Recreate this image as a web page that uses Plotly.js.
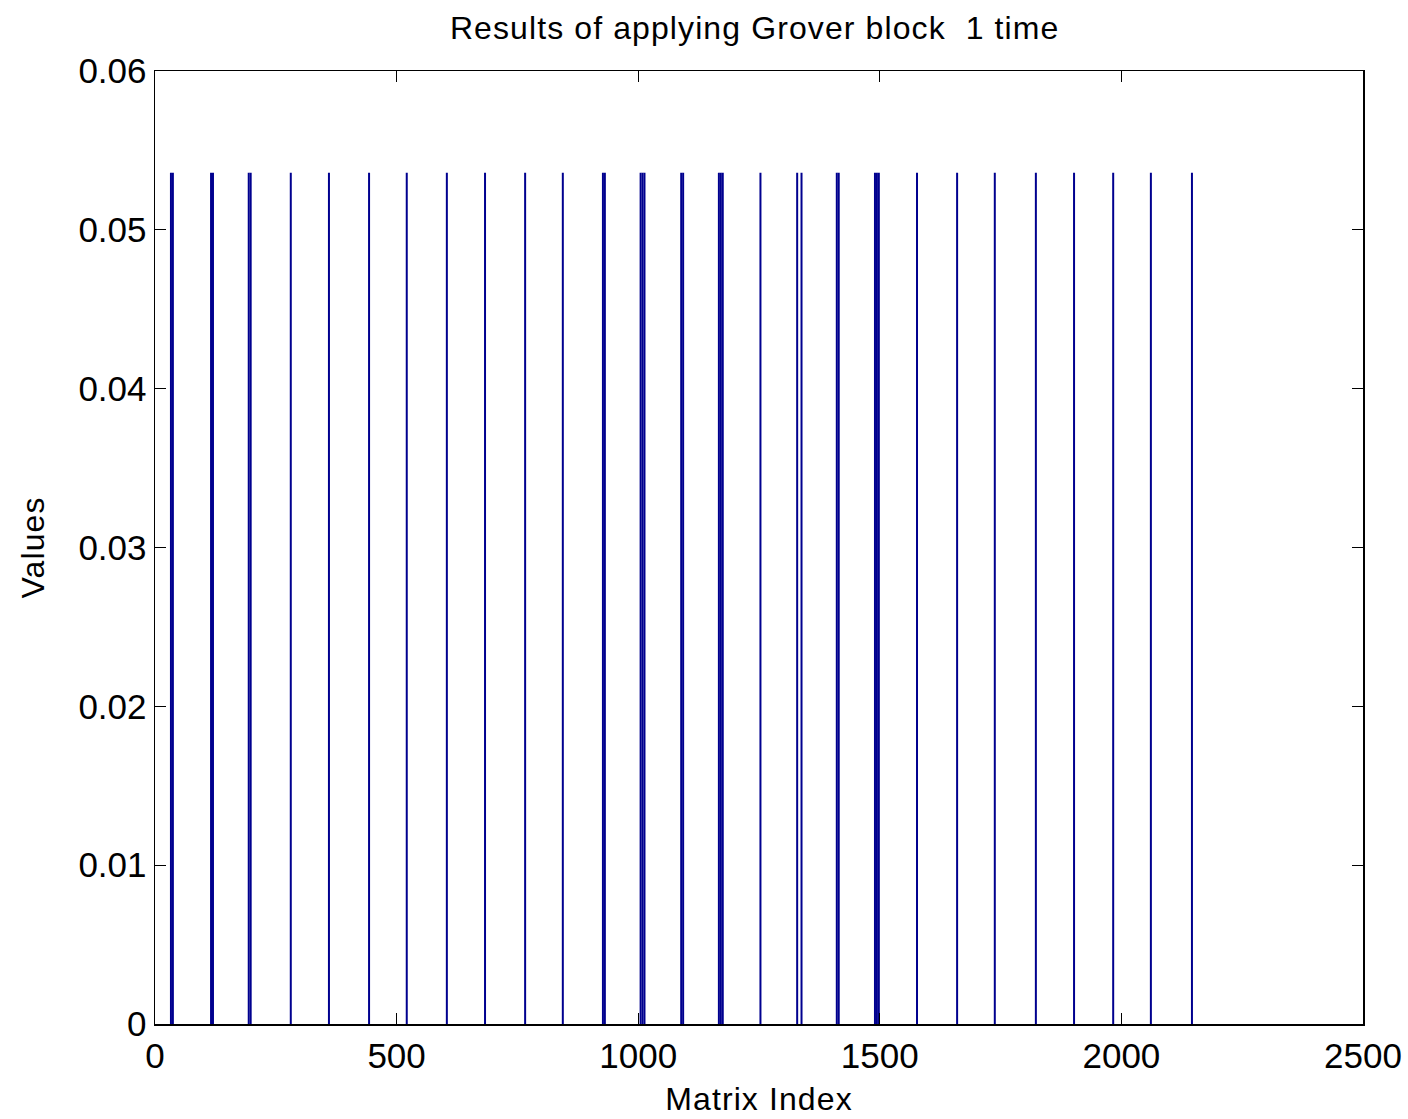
<!DOCTYPE html>
<html>
<head>
<meta charset="utf-8">
<script src="https://cdn.plot.ly/plotly-3.0.1.min.js"></script>
<style>html,body{margin:0;padding:0;background:#fff;}#chart{width:1408px;height:1119px;}
#chart .gtitle{letter-spacing:1.1px;}
#chart .xtitle{letter-spacing:1.1px;}
#chart .ytitle{letter-spacing:1.1px;}
</style>
</head>
<body>
<div id="chart"></div>
<script>
// Matrix indices that carry a non-zero value
const spikeIndices = [33, 37, 116, 120, 194, 198, 281, 360, 443, 521, 604, 683, 766, 844,
  927, 931, 1005, 1009, 1013, 1089, 1093, 1167, 1171, 1175, 1253, 1329, 1338,
  1411, 1415, 1490, 1494, 1498, 1577, 1660, 1738, 1823, 1902, 1983, 2061, 2146];
const spikeValues = spikeIndices.map(() => 0.0536);
const xTicks = [0, 500, 1000, 1500, 2000, 2500];
const yTicks = [0, 0.01, 0.02, 0.03, 0.04, 0.05, 0.06];
const yTickText = ['0', '0.01', '0.02', '0.03', '0.04', '0.05', '0.06'];

const xs = [], ys = [];
spikeIndices.forEach((idx, k) => {
  xs.push(idx, idx, null);
  ys.push(0, spikeValues[k], null);
});

const font = {family: 'Liberation Sans, Arial, sans-serif', color: '#000'};
const data = [{
  x: xs, y: ys, type: 'scatter', mode: 'lines',
  line: {color: '#00008f', width: 2}, connectgaps: false, hoverinfo: 'skip'
}];
const layout = {
  width: 1408, height: 1119,
  margin: {l: 155, r: 45, t: 71, b: 95},
  paper_bgcolor: '#fff', plot_bgcolor: '#fff',
  showlegend: false,
  font: Object.assign({size: 32}, font),
  title: {text: 'Results of applying Grover block  1 time', x: 0.536, xanchor: 'center', y: 0.975, yanchor: 'middle',
    font: Object.assign({size: 32}, font)},
  xaxis: {
    range: [0, 2500], tickvals: xTicks, ticktext: xTicks.map(String),
    ticks: 'inside', ticklen: 11, tickwidth: 1.2, tickcolor: '#000',
    showline: true, linecolor: '#000', linewidth: 1.5, mirror: 'ticks',
    showgrid: false, zeroline: false,
    tickfont: Object.assign({size: 35}, font),
    title: {text: 'Matrix Index', font: Object.assign({size: 32}, font), standoff: 14}
  },
  yaxis: {
    range: [0, 0.06], tickvals: yTicks, ticktext: yTickText,
    ticks: 'inside', ticklen: 11, tickwidth: 1.2, tickcolor: '#000',
    showline: true, linecolor: '#000', linewidth: 1.5, mirror: 'ticks',
    showgrid: false, zeroline: false,
    tickfont: Object.assign({size: 35}, font),
    title: {text: 'Values', font: Object.assign({size: 32}, font), standoff: 24}
  }
};
Plotly.newPlot('chart', data, layout, {displayModeBar: false, staticPlot: true});
</script>
</body>
</html>
